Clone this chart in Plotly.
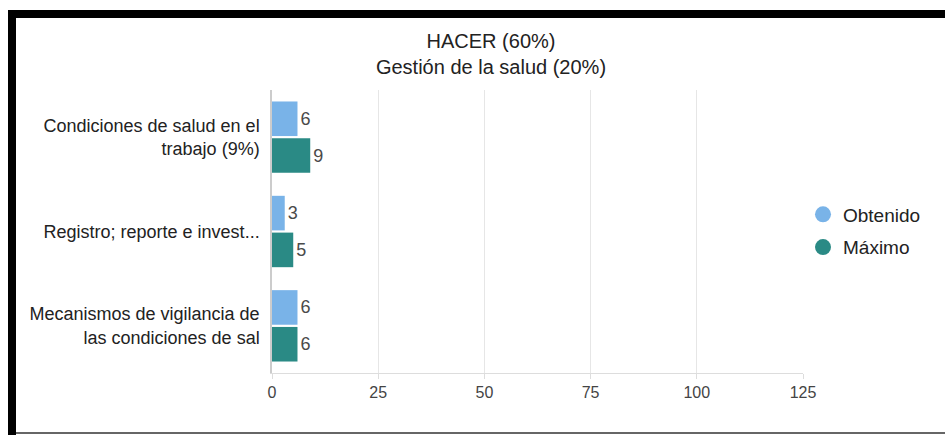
import plotly.graph_objects as go

categories = [
    "Condiciones de salud en el<br>trabajo (9%)",
    "Registro; reporte e invest...",
    "Mecanismos de vigilancia de<br>las condiciones de sal",
]
obtenido = [6, 3, 6]
maximo = [9, 5, 6]
series_names = ["Obtenido", "Máximo"]
x_ticks = [0, 25, 50, 75, 100, 125]
title_lines = ["HACER (60%)", "Gestión de la salud (20%)"]

colors = ["#79b3e8", "#2a8a85"]
FONT = "Liberation Sans, Arial, sans-serif"

W, H = 945, 435
ML, MR, MT, MB = 272, 142, 90, 62
PW, PH = W - ML - MR, H - MT - MB

fig = go.Figure()
for i, (name, vals, col) in enumerate(zip(series_names, [obtenido, maximo], colors)):
    fig.add_trace(go.Bar(
        y=categories, x=vals, orientation="h", name=name,
        marker=dict(color=col, line=dict(width=0)),
        text=[str(v) for v in vals], textposition="outside",
        textfont=dict(size=18, color="#4a4a4a", family=FONT),
        cliponaxis=False, showlegend=False,
    ))
    fig.add_trace(go.Scatter(
        x=[None], y=[None], mode="markers", name=name,
        marker=dict(symbol="circle", size=16, color=col),
        showlegend=True, legendgroup="g%d" % i,
    ))

def px_x(px):
    return (px - ML) / PW

def px_y(py):
    return (H - MB - py) / PH

shapes = [
    dict(type="rect", xref="paper", yref="paper", x0=px_x(8), x1=px_x(950),
         y0=px_y(18), y1=px_y(10), fillcolor="black", line=dict(width=0), layer="above"),
    dict(type="rect", xref="paper", yref="paper", x0=px_x(8), x1=px_x(16),
         y0=px_y(440), y1=px_y(10), fillcolor="black", line=dict(width=0), layer="above"),
    dict(type="line", xref="paper", yref="paper", x0=px_x(16), x1=px_x(950),
         y0=px_y(433), y1=px_y(433), line=dict(color="#666666", width=2), layer="above"),
]

fig.update_layout(
    width=W, height=H,
    margin=dict(l=ML, r=MR, t=MT, b=MB, pad=0, autoexpand=False),
    paper_bgcolor="white", plot_bgcolor="white",
    font=dict(family=FONT, color="#222222"),
    title=dict(text="<br>".join(title_lines), x=491 / W, xanchor="center",
               xref="container", y=1 - 48 / H, yanchor="middle",
               font=dict(size=20, color="#222222", family=FONT)),
    barmode="group", bargap=0.22, bargroupgap=0.06,
    xaxis=dict(range=[0, 125], tickvals=x_ticks, ticktext=[str(t) for t in x_ticks],
               showgrid=True, gridcolor="#e6e6e6", gridwidth=1,
               zeroline=False, showline=True, linecolor="#dddddd", linewidth=1,
               ticks="outside", ticklen=5, tickcolor="#dddddd", automargin=False,
               tickfont=dict(size=16, color="#444444", family=FONT), fixedrange=True),
    yaxis=dict(autorange="reversed", showgrid=False, zeroline=False,
               showline=True, linecolor="#cccccc", linewidth=1.5,
               ticks="", ticklabelstandoff=7, automargin=False,
               tickfont=dict(size=18, color="#222222", family=FONT)),
    legend=dict(x=px_x(803), xanchor="left", y=px_y(231), yanchor="middle",
                font=dict(size=19, color="#222222", family=FONT),
                itemsizing="trace", tracegroupgap=5, bgcolor="rgba(0,0,0,0)"),
    shapes=shapes,
)

fig.write_html(
    "out.html",
    config={"displayModeBar": False},
    post_script="document.body.style.margin='0';document.body.style.overflow='hidden';",
)
